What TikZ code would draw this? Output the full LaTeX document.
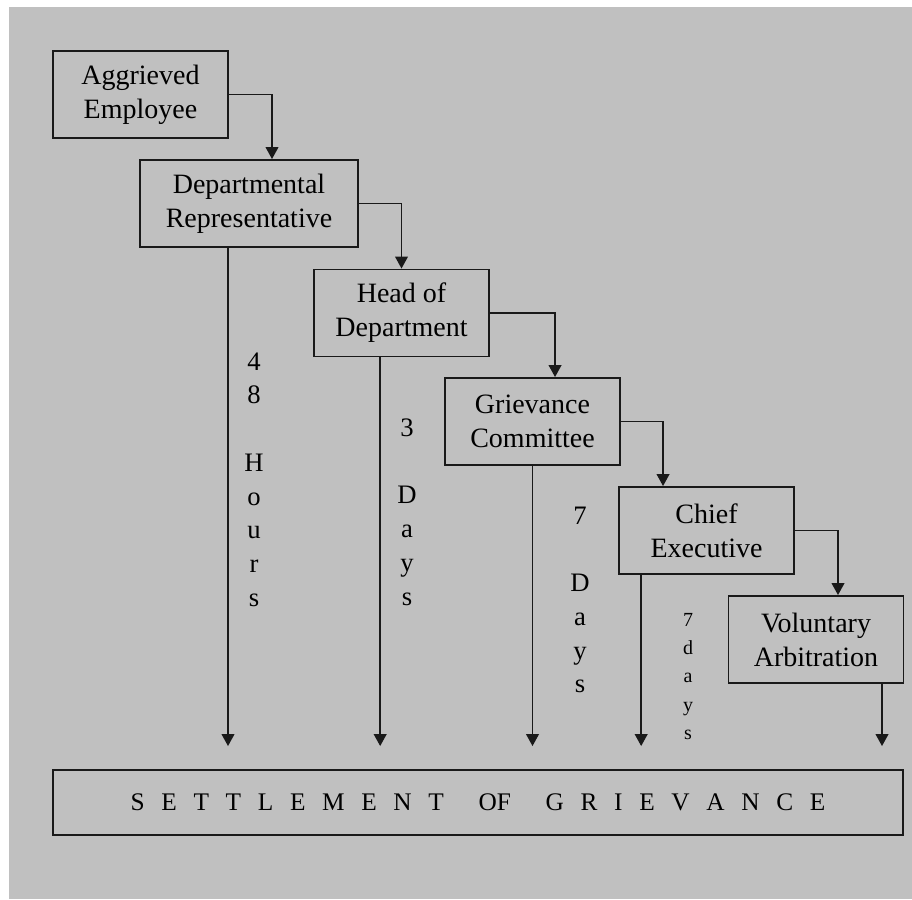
\documentclass[tikz,border=0pt]{standalone}
\usepackage{fontspec}
\setmainfont{Liberation Serif}
\usetikzlibrary{arrows.meta}

\definecolor{panelgray}{RGB}{192,192,192}
\definecolor{inkline}{RGB}{25,25,25}

\tikzset{
  stepbox/.style={draw=inkline, line width=1.4pt, minimum width=131.25pt, minimum height=65.25pt,
    inner sep=0pt, align=center, font=\fontsize{21}{25.5}\selectfont},
  link/.style={draw=inkline, line width=1.4pt, -{Triangle[length=9pt,width=9.5pt]}},
  vlabel/.style={align=center, inner sep=0pt, font=\fontsize{20}{25.3}\selectfont},
}

\begin{document}
\begin{tikzpicture}[x=0.75pt,y=0.75pt,yscale=-1,xscale=1]
\useasboundingbox (0,0) rectangle (912,899);
%Shape: background panel
\fill [panelgray] (9,7) rectangle (912,899);

%Shape: Rectangle (steps)
\node [stepbox] (aggr) at (140.5,94.5) {Aggrieved\\Employee};
\node [stepbox, minimum width=163.5pt] (dept) at (249,203.5) {Departmental\\Representative};
\node [stepbox] (hod) at (401.5,313) {Head of\\Department};
\node [stepbox] (gc) at (532.5,421.5) {Grievance\\Committee};
\node [stepbox] (ce) at (706.5,530.5) {Chief\\Executive};
\node [stepbox] (va) at (816,639.5) {Voluntary\\Arbitration};
%Shape: Rectangle (settlement)
\node [stepbox, minimum width=637.5pt, minimum height=48.75pt, font=\fontsize{19}{20}\selectfont] (settle) at (478,802.5)
  {\spaceskip=12.5pt S E T T L E M E N T\hspace{26pt}OF\hspace{26pt}G R I E V A N C E};

%Straight Lines (step to step)
\draw [link] (aggr.east) -| ([xshift=17.25pt]dept.north);
\draw [link] (dept.east) -| (hod.north);
\draw [link] (hod.east) -| ([xshift=16.9pt]gc.north);
\draw [link] (gc.east) -| ([xshift=-32.6pt]ce.north);
\draw [link] (ce.east) -| ([xshift=16.5pt]va.north);

%Straight Lines (down to settlement)
\draw [link, shorten >=17.25pt] ([xshift=-15.75pt]dept.south) -- ([xshift=-15.75pt]dept.south |- settle.north);
\draw [link, shorten >=17.25pt] ([xshift=-16pt]hod.south) -- ([xshift=-16pt]hod.south |- settle.north);
\draw [link, shorten >=17.25pt] (gc.south) -- (gc.south |- settle.north);
\draw [link, shorten >=17.25pt] ([xshift=-49pt]ce.south) -- ([xshift=-49pt]ce.south |- settle.north);
\draw [link, shorten >=17.25pt] ([xshift=49.5pt]va.south) -- ([xshift=49.5pt]va.south |- settle.north);

% Text Node (time limits)
\node [vlabel] (hours48) at (254,479.5) {4\\8\\[25.3pt]H\\o\\u\\r\\s};
\node [vlabel] (days3) at (407,512) {3\\[25.3pt]D\\a\\y\\s};
\node [vlabel] (days7) at (580,600) {7\\[25.3pt]D\\a\\y\\s};
\node [vlabel, font=\fontsize{15}{21.2}\selectfont] (days7b) at (688,676.5) {7\\d\\a\\y\\s};

\end{tikzpicture}
\end{document}
